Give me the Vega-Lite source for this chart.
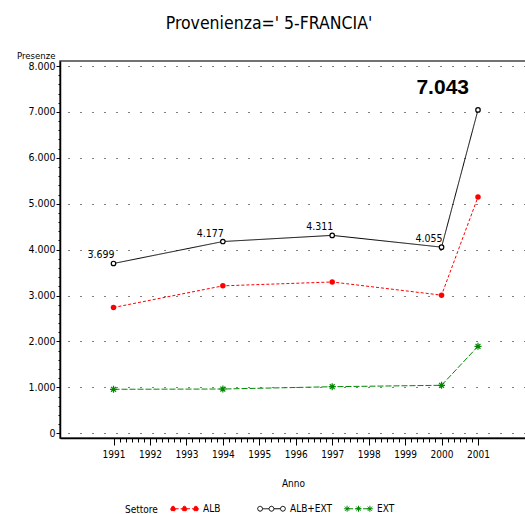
{
  "$schema": "https://vega.github.io/schema/vega-lite/v6.json",
  "width": 466,
  "height": 377,
  "autosize": {"type": "none"},
  "padding": {"left": 60, "top": 61, "right": 0, "bottom": 76},
  "background": "white",
  "title": {"text": "Provenienza=' 5-FRANCIA'", "font": "Liberation Sans Narrow, Arial Narrow, DejaVu Sans Condensed, Liberation Sans", "fontSize": 17.5, "fontWeight": "normal", "color": "black", "anchor": "middle", "dx": -24, "baseline": "alphabetic", "offset": 4},
  "config": {
    "locale": {"number": {"decimal": ",", "thousands": ".", "grouping": [3], "currency": ["", " €"]}},
    "view": {"stroke": "#444444", "strokeWidth": 1.5},
    "font": "Liberation Sans Narrow, Arial Narrow, DejaVu Sans Condensed, Liberation Sans"
  },
  "data": {"values": [
    {"Anno": 1991, "Settore": "ALB", "Presenze": 2740},
    {"Anno": 1994, "Settore": "ALB", "Presenze": 3212},
    {"Anno": 1997, "Settore": "ALB", "Presenze": 3296},
    {"Anno": 2000, "Settore": "ALB", "Presenze": 3009},
    {"Anno": 2001, "Settore": "ALB", "Presenze": 5148},
    {"Anno": 1991, "Settore": "ALB+EXT", "Presenze": 3699},
    {"Anno": 1994, "Settore": "ALB+EXT", "Presenze": 4177},
    {"Anno": 1997, "Settore": "ALB+EXT", "Presenze": 4311},
    {"Anno": 2000, "Settore": "ALB+EXT", "Presenze": 4055},
    {"Anno": 2001, "Settore": "ALB+EXT", "Presenze": 7043},
    {"Anno": 1991, "Settore": "EXT", "Presenze": 959},
    {"Anno": 1994, "Settore": "EXT", "Presenze": 965},
    {"Anno": 1997, "Settore": "EXT", "Presenze": 1015},
    {"Anno": 2000, "Settore": "EXT", "Presenze": 1046},
    {"Anno": 2001, "Settore": "EXT", "Presenze": 1895}
  ]},
  "encoding": {
    "x": {
      "field": "Anno", "type": "quantitative",
      "scale": {"domain": [1989.532, 2002.317], "nice": false, "zero": false},
      "axis": {
        "title": "Anno", "titleFontSize": 10, "titleFontWeight": "normal", "titleColor": "black", "titleBaseline": "alphabetic", "titleY": 48,
        "values": [1991, 1991.1667, 1991.3333, 1991.5, 1991.6667, 1991.8333,
                   1992, 1992.1667, 1992.3333, 1992.5, 1992.6667, 1992.8333,
                   1993, 1993.1667, 1993.3333, 1993.5, 1993.6667, 1993.8333,
                   1994, 1994.1667, 1994.3333, 1994.5, 1994.6667, 1994.8333,
                   1995, 1995.1667, 1995.3333, 1995.5, 1995.6667, 1995.8333,
                   1996, 1996.1667, 1996.3333, 1996.5, 1996.6667, 1996.8333,
                   1997, 1997.1667, 1997.3333, 1997.5, 1997.6667, 1997.8333,
                   1998, 1998.1667, 1998.3333, 1998.5, 1998.6667, 1998.8333,
                   1999, 1999.1667, 1999.3333, 1999.5, 1999.6667, 1999.8333,
                   2000, 2000.1667, 2000.3333, 2000.5, 2000.6667, 2000.8333, 2001],
        "labelExpr": "datum.value % 1 === 0 ? format(datum.value, 'd') : ''",
        "labelFontSize": 10, "labelColor": "black", "labelBaseline": "alphabetic", "labelPadding": 12,
        "labelOverlap": false, "labelBound": false, "labelFlush": false,
        "tickSize": {"condition": {"test": "datum.value % 1 === 0", "value": 7}, "value": 4},
        "tickColor": "black", "tickWidth": 1,
        "domainColor": "black", "domainWidth": 1.5,
        "grid": false
      }
    },
    "y": {
      "field": "Presenze", "type": "quantitative",
      "scale": {"domain": [-102, 8109], "nice": false, "zero": false},
      "axis": {
        "title": "Presenze", "titleAngle": 0, "titleAlign": "right", "titleBaseline": "alphabetic", "titleX": -5, "titleY": -3,
        "titleFontSize": 9.5, "titleFontWeight": "normal", "titleColor": "black",
        "values": [0, 200, 400, 600, 800, 1000, 1200, 1400, 1600, 1800, 2000, 2200, 2400, 2600, 2800, 3000, 3200, 3400, 3600, 3800, 4000, 4200, 4400, 4600, 4800, 5000, 5200, 5400, 5600, 5800, 6000, 6200, 6400, 6600, 6800, 7000, 7200, 7400, 7600, 7800, 8000],
        "labelExpr": "datum.value % 1000 === 0 ? format(datum.value, ',d') : ''",
        "labelFontSize": 10.5, "labelColor": "black", "labelPadding": 1,
        "labelOverlap": false, "labelBound": false, "labelFlush": false,
        "tickSize": {"condition": {"test": "datum.value % 1000 === 0", "value": 4}, "value": 2},
        "tickColor": "black", "tickWidth": 1,
        "domainColor": "black", "domainWidth": 1.5,
        "grid": true, "gridColor": "black", "gridWidth": 1, "gridDash": [1, 11], "gridDashOffset": 4,
        "gridOpacity": {"condition": {"test": "datum.value % 1000 === 0", "value": 1}, "value": 0}
      }
    }
  },
  "layer": [
    {
      "mark": {"type": "line", "strokeWidth": 1},
      "encoding": {
        "color": {
          "field": "Settore", "type": "nominal",
          "scale": {"domain": ["ALB", "ALB+EXT", "EXT"], "range": ["#ff0000", "#000000", "#008800"]},
          "legend": {
            "orient": "none", "legendX": 65, "legendY": 435, "direction": "horizontal",
            "title": "Settore", "titleOrient": "left", "titleFontSize": 10, "titleFontWeight": "normal", "titleColor": "black", "titlePadding": 14, "titleBaseline": "top", "titleAnchor": "middle",
            "labelFontSize": 10, "labelColor": "black", "labelOffset": 6,
            "symbolSize": 576, "symbolStrokeWidth": 1, "columnPadding": 9, "gridAlign": "all", "padding": 0,
            "encoding": {
              "symbols": {
                "shape": {"value": {"expr": "datum.value === 'EXT' ? 'M-0.95,0L0.95,0M-1.2,0L-0.7,0M-0.95,-0.25L-0.95,0.25M-1.13,-0.18L-0.77,0.18M-1.13,0.18L-0.77,-0.18M-0.25,0L0.25,0M0,-0.25L0,0.25M-0.18,-0.18L0.18,0.18M-0.18,0.18L0.18,-0.18M0.7,0L1.2,0M0.95,-0.25L0.95,0.25M0.77,-0.18L1.13,0.18M0.77,0.18L1.13,-0.18' : 'M-0.74,0L-0.21,0M0.21,0L0.74,0M-0.74,0L-0.8,0.15L-0.95,0.21L-1.1,0.15L-1.16,0L-1.1,-0.15L-0.95,-0.21L-0.8,-0.15ZM0.21,0L0.15,0.15L0,0.21L-0.15,0.15L-0.21,0L-0.15,-0.15L0,-0.21L0.15,-0.15ZM1.16,0L1.1,0.15L0.95,0.21L0.8,0.15L0.74,0L0.8,-0.15L0.95,-0.21L1.1,-0.15Z'"}},
                "fill": {"value": {"expr": "datum.value === 'ALB' ? '#ff0000' : datum.value === 'ALB+EXT' ? '#ffffff' : 'transparent'"}},
                "strokeDash": {"value": []}
              }
            }
          }
        },
        "strokeDash": {
          "field": "Settore", "type": "nominal",
          "scale": {"domain": ["ALB", "ALB+EXT", "EXT"], "range": [[3, 2], [1, 0], [6, 2]]},
          "legend": null
        }
      }
    },
    {
      "transform": [{"filter": "datum.Settore === 'ALB'"}],
      "mark": {"type": "point", "shape": "circle", "filled": true, "color": "#ff0000", "size": 30, "opacity": 1}
    },
    {
      "transform": [{"filter": "datum.Settore === 'ALB+EXT'"}],
      "mark": {"type": "point", "shape": "circle", "fill": "#ffffff", "stroke": "#000000", "strokeWidth": 1.2, "size": 20, "opacity": 1}
    },
    {
      "transform": [{"filter": "datum.Settore === 'EXT'"}],
      "mark": {"type": "point", "shape": "M-1,0L1,0M0,-1L0,1M-0.7,-0.7L0.7,0.7M-0.7,0.7L0.7,-0.7", "filled": false, "stroke": "#008800", "strokeWidth": 1.2, "size": 49, "opacity": 1}
    },
    {
      "transform": [{"filter": "datum.Settore === 'ALB+EXT' && datum.Anno < 2001"}],
      "mark": {"type": "text", "align": "right", "baseline": "alphabetic", "dx": 1, "dy": -5, "fontSize": 10.5, "color": "black"},
      "encoding": {"text": {"field": "Presenze", "type": "quantitative", "format": ",d"}}
    },
    {
      "transform": [{"filter": "datum.Settore === 'ALB+EXT' && datum.Anno === 2001"}],
      "mark": {"type": "text", "align": "right", "baseline": "alphabetic", "dx": -9, "dy": -16, "font": "Liberation Sans", "fontSize": 21, "fontWeight": "bold", "color": "black"},
      "encoding": {"text": {"field": "Presenze", "type": "quantitative", "format": ",d"}}
    }
  ]
}
